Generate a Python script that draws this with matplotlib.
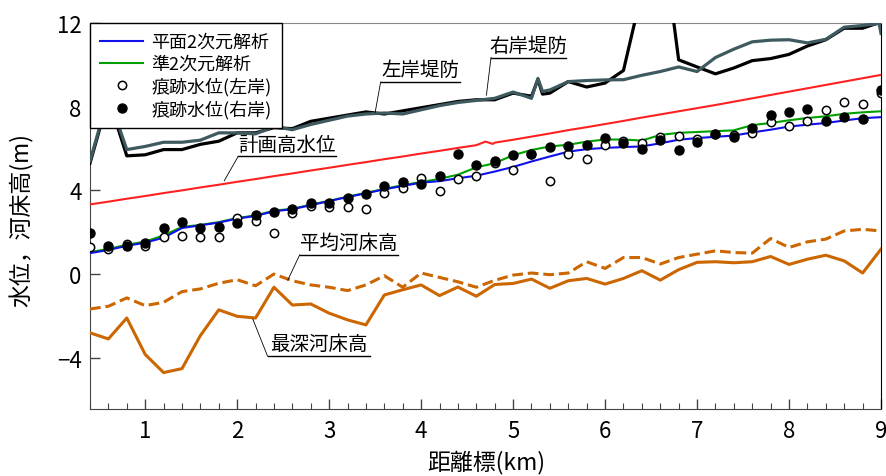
import matplotlib
matplotlib.use('Agg')
import matplotlib.pyplot as plt
import matplotlib.ticker as ticker
import numpy as np

plt.rcParams['font.family'] = ['Noto Sans CJK JP', 'DejaVu Sans']
plt.rcParams['axes.unicode_minus'] = True

# ---- data (distance marker km, elevation m) ----
dist = [0.4, 0.6, 0.8, 1.0, 1.2, 1.4, 1.6, 1.8, 2.0, 2.2, 2.4, 2.6, 2.8, 3.0, 3.2,
        3.4, 3.6, 3.8, 4.0, 4.2, 4.4, 4.6, 4.8, 5.0, 5.2, 5.4, 5.6, 5.8, 6.0, 6.2,
        6.4, 6.6, 6.8, 7.0, 7.2, 7.4, 7.6, 7.8, 8.0, 8.2, 8.4, 8.6, 8.8, 9.0]

# left bank levee (black)
levee_l_x = [0.4, 0.6, 0.8, 1.0, 1.2, 1.4, 1.6, 1.8, 2.0, 2.2, 2.4, 2.6, 2.8, 3.0, 3.2,
             3.4, 3.6, 3.8, 4.0, 4.2, 4.4, 4.6, 4.8, 5.0, 5.2, 5.27, 5.32, 5.4, 5.6, 5.8,
             6.0, 6.2, 6.4, 6.6, 6.8, 7.0, 7.2, 7.4, 7.6, 7.8, 8.0, 8.2, 8.4, 8.6, 8.8, 9.0]
levee_l = [5.3, 8.4, 5.65, 5.7, 5.95, 5.95, 6.2, 6.35, 6.75, 6.75, 7.0, 6.95, 7.3, 7.45, 7.6,
           7.75, 7.65, 7.8, 7.95, 8.1, 8.25, 8.33, 8.33, 8.65, 8.5, 9.3, 8.6, 8.65, 9.2, 8.94,
           9.13, 9.73, 13.5, 17.0, 10.24, 9.9, 9.57, 9.85, 10.2, 10.3, 10.5, 10.9, 11.2, 11.75, 11.75, 12.05]

# right bank levee (dark grey)
levee_r_x = [0.4, 0.6, 0.8, 1.0, 1.2, 1.4, 1.6, 1.8, 2.0, 2.2, 2.4, 2.6, 2.8, 3.0, 3.2,
             3.4, 3.6, 3.8, 4.0, 4.2, 4.4, 4.6, 4.8, 5.0, 5.2, 5.27, 5.32, 5.4, 5.6, 5.8,
             6.0, 6.2, 6.4, 6.6, 6.8, 7.0, 7.2, 7.4, 7.6, 7.8, 8.0, 8.2, 8.4, 8.6, 8.8, 8.98, 9.0]
levee_r = [5.4, 8.5, 5.95, 6.1, 6.3, 6.3, 6.4, 6.75, 6.75, 6.7, 7.05, 6.9, 7.15, 7.35, 7.55,
           7.65, 7.7, 7.65, 7.85, 8.05, 8.2, 8.3, 8.4, 8.7, 8.4, 9.35, 8.73, 8.8, 9.2, 9.25,
           9.28, 9.29, 9.5, 9.68, 9.9, 9.68, 10.35, 10.75, 11.1, 11.18, 11.2, 11.05, 11.22, 11.8, 11.88, 11.98, 11.5]

# planned high water level
hwl_x = [0.4, 0.6, 0.8, 1.0, 1.2, 1.4, 1.6, 1.8, 2.0, 2.2, 2.4, 2.6, 2.8, 3.0, 3.2,
         3.4, 3.6, 3.8, 4.0, 4.2, 4.4, 4.6, 4.7, 4.78, 4.8, 5.0, 5.2, 5.4, 5.6, 5.8,
         6.0, 6.2, 6.4, 6.6, 6.8, 7.0, 7.2, 7.4, 7.6, 7.8, 8.0, 8.2, 8.4, 8.6, 8.8, 9.0]
hwl = [3.33, 3.46, 3.6, 3.73, 3.87, 4.0, 4.14, 4.27, 4.41, 4.54, 4.68, 4.81, 4.95, 5.08, 5.22,
       5.35, 5.49, 5.62, 5.76, 5.89, 6.03, 6.16, 6.33, 6.22, 6.28, 6.42, 6.57, 6.72, 6.88, 7.02,
       7.17, 7.32, 7.48, 7.63, 7.78, 7.93, 8.08, 8.24, 8.4, 8.56, 8.72, 8.88, 9.04, 9.2, 9.36, 9.52]

# 2D analysis (blue)
wl_2d = [1.0, 1.15, 1.35, 1.5, 1.74, 2.2, 2.33, 2.46, 2.65, 2.78, 3.0, 3.1, 3.29, 3.49, 3.68,
         3.86, 4.05, 4.21, 4.37, 4.44, 4.58, 4.7, 4.9, 5.12, 5.38, 5.62, 5.85, 5.97, 6.03, 6.07,
         6.1, 6.25, 6.42, 6.5, 6.56, 6.62, 6.77, 6.9, 7.05, 7.14, 7.22, 7.34, 7.45, 7.5]

# quasi-2D analysis (green)
wl_q2d = [1.05, 1.2, 1.4, 1.55, 1.85, 2.25, 2.35, 2.48, 2.68, 2.8, 3.03, 3.12, 3.32, 3.5, 3.7,
          3.88, 4.07, 4.25, 4.4, 4.55, 4.75, 5.1, 5.3, 5.68, 5.93, 6.1, 6.18, 6.33, 6.43, 6.43,
          6.38, 6.65, 6.75, 6.79, 6.83, 6.87, 7.12, 7.22, 7.35, 7.46, 7.54, 7.66, 7.73, 7.78]

# trace water levels
trace_left = [1.27, 1.19, 1.46, 1.32, 1.78, 1.83, 1.78, 1.78, 2.67, 2.54, 1.98, 2.94, 3.25, 3.21, 3.21,
              3.1, 3.89, 4.13, 4.57, 3.97, 4.52, 4.71, 5.32, 4.97, 5.72, 4.44, 5.76, 5.52, 6.16, 6.35,
              6.27, 6.56, 6.62, 6.46, 6.68, 6.67, 6.75, 7.25, 7.1, 7.3, 7.83, 8.21, 8.13, 8.65]
trace_right = [1.98, 1.35, 1.32, 1.48, 2.22, 2.49, 2.22, 2.27, 2.46, 2.82, 2.98, 3.1, 3.38, 3.38, 3.63,
               3.81, 4.21, 4.4, 4.29, 4.71, 5.76, 5.19, 5.4, 5.67, 5.76, 6.06, 6.11, 6.19, 6.48, 6.27,
               5.98, 6.4, 5.95, 6.3, 6.71, 6.54, 6.98, 7.62, 7.75, 7.9, 7.33, 7.49, 7.41, 8.8]

# river bed
bed_mean = [-1.67, -1.54, -1.14, -1.51, -1.35, -0.84, -0.71, -0.44, -0.27, -0.56, 0.0, -0.32, -0.52, -0.63, -0.79,
            -0.52, -0.08, -0.63, 0.05, -0.16, -0.37, -0.63, -0.3, -0.05, 0.05, -0.03, 0.05, 0.59, 0.27, 0.79,
            0.79, 0.48, 0.79, 0.95, 1.11, 1.03, 1.0, 1.7, 1.27, 1.54, 1.67, 2.06, 2.14, 2.06]
bed_deep = [-2.81, -3.1, -2.1, -3.84, -4.71, -4.52, -2.94, -1.71, -2.02, -2.1, -0.63, -1.48, -1.43, -1.87, -2.19,
            -2.43, -1.0, -0.75, -0.52, -1.03, -0.62, -1.06, -0.5, -0.45, -0.24, -0.68, -0.32, -0.21, -0.48, -0.21,
            0.16, -0.29, 0.21, 0.56, 0.59, 0.54, 0.59, 0.84, 0.46, 0.71, 0.9, 0.63, 0.05, 1.19]

# ---- figure ----
fig = plt.figure(figsize=(8.86, 4.77), dpi=100)
ax = fig.add_axes([90 / 886, 1 - 410 / 477, 791 / 886, 386 / 477])

orange = '#CC6600'
ax.plot(levee_l_x, levee_l, color='black', lw=2.3, zorder=3)
ax.plot(levee_r_x, levee_r, color='#3E5A5F', lw=2.3, zorder=3)
ax.plot(hwl_x, hwl, color='#FF2020', lw=1.5, zorder=3)
ax.plot(dist, bed_mean, color=orange, lw=2.2, dashes=(3.5, 1.6), zorder=3)
ax.plot(dist, bed_deep, color=orange, lw=2.2, zorder=3)
ax.plot(dist, wl_q2d, color='#00A000', lw=1.5, zorder=4, label='準2次元解析')
ax.plot(dist, wl_2d, color='#1010E8', lw=1.5, zorder=4, label='平面2次元解析')
ax.plot(dist, trace_left, ls='none', marker='o', ms=6, mfc='white', mec='black', mew=1.1,
        zorder=5, label='痕跡水位(左岸)')
ax.plot(dist, trace_right, ls='none', marker='o', ms=6.5, mfc='black', mec='black',
        zorder=6, label='痕跡水位(右岸)')

ax.set_xlim(0.4, 9.0)
ax.set_ylim(-6.45, 12)
ax.xaxis.set_major_locator(ticker.MultipleLocator(1))
ax.xaxis.set_minor_locator(ticker.MultipleLocator(0.2))
ax.yaxis.set_major_locator(ticker.MultipleLocator(4))
ax.tick_params(axis='both', which='major', direction='in', length=7, width=1,
               labelsize=16, color='#444444', pad=6)
ax.tick_params(axis='x', which='minor', direction='in', length=4, width=0.8, color='#444444')
ax.tick_params(axis='x', which='major', pad=7)
ax.spines['left'].set_color('#444444')
ax.spines['bottom'].set_color('#444444')
ax.spines['top'].set_color('#888888')
ax.spines['right'].set_color('black')

fig.text(22 / 886, 1 - 220 / 477, '水位，河床高(m)', rotation=90, ha='center', va='center', fontsize=16.5)
fig.text(486 / 886, 1 - 463 / 477, '距離標(km)', ha='center', va='center', fontsize=16.5)

# legend in the order of the reference
h, l = ax.get_legend_handles_labels()
order = [1, 0, 2, 3]
leg = ax.legend([h[i] for i in order], [l[i] for i in order], loc='upper left',
                bbox_to_anchor=(0, 1), fontsize=13, frameon=True, fancybox=False,
                edgecolor='black', framealpha=1, borderpad=0.55, labelspacing=0.22,
                handlelength=2.4, handletextpad=0.45, borderaxespad=0, numpoints=1)
leg.get_frame().set_linewidth(1.0)
leg.set_zorder(10)

# labels with underline and leader line
notes = [
    ('左岸堤防', 3.56, 4.42, 9.18, 3.50, 7.72),
    ('右岸堤防', 4.76, 5.58, 10.35, 4.71, 8.55),
    ('計画高水位', 2.01, 3.08, 5.62, 1.86, 4.46),
    ('平均河床高', 2.68, 3.75, 0.92, 2.55, -0.29),
    ('最深河床高', 2.33, 3.44, -3.92, 2.17, -2.15),
]
for txt, x0, x1, yu, xl, yl in notes:
    ax.plot([x0, x1], [yu, yu], color='black', lw=1.0, zorder=7)
    ax.plot([x0, xl], [yu, yl], color='black', lw=0.6, zorder=7)
    ax.text((x0 + x1) / 2, yu + 0.08, txt, ha='center', va='bottom', fontsize=14, zorder=7)

fig.savefig('out.png', dpi=100)
